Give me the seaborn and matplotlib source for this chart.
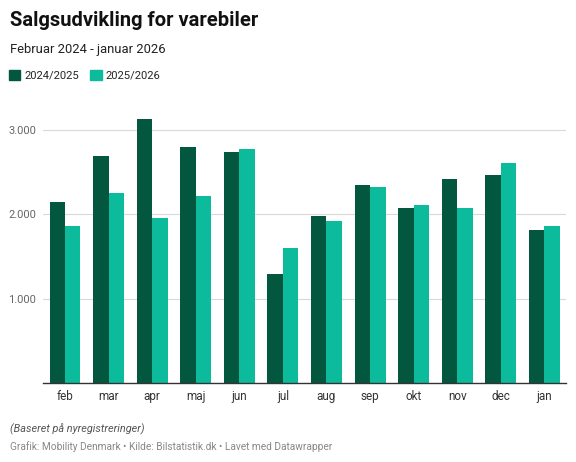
import numpy as np
import matplotlib.pyplot as plt
import matplotlib.patches as mpatches
import seaborn as sns
import pandas as pd

# Data
maaneder = ["feb", "mar", "apr", "maj", "jun", "jul", "aug", "sep", "okt", "nov", "dec", "jan"]
aar_2024_2025 = [2140, 2685, 3125, 2790, 2735, 1290, 1975, 2340, 2070, 2415, 2460, 1810]
aar_2025_2026 = [1860, 2255, 1960, 2215, 2775, 1605, 1920, 2325, 2110, 2075, 2605, 1865]
serier = ["2024/2025", "2025/2026"]
farver = ["#03573f", "#0bbb9c"]

df = pd.DataFrame({
    "Måned": maaneder * 2,
    "Antal": aar_2024_2025 + aar_2025_2026,
    "Periode": [serier[0]] * 12 + [serier[1]] * 12,
})

sns.set_style("white")
plt.rcParams["font.family"] = ["Roboto", "DejaVu Sans"]

fig = plt.figure(figsize=(5.76, 4.62), dpi=100)
ax = fig.add_axes([0.075, 0.171, 0.908, 0.603])

sns.barplot(data=df, x="Måned", y="Antal", hue="Periode", palette=farver,
            width=0.71, gap=0, saturation=1, legend=False, linewidth=0, ax=ax)

ax.set_xlim(-0.5, 11.5)
ax.set_ylim(0, 3300)
ax.set_yticks([1000, 2000, 3000])
ax.set_yticklabels(["1.000", "2.000", "3.000"])
ax.set_xlabel("")
ax.set_ylabel("")
ax.yaxis.grid(True, color="#d9d9d9", linewidth=0.8)
ax.set_axisbelow(True)
sns.despine(ax=ax, left=True)
ax.spines["bottom"].set_color("#333333")
ax.spines["bottom"].set_linewidth(1.0)
ax.tick_params(axis="y", length=0, labelsize=8, labelcolor="#666666", pad=5)
ax.tick_params(axis="x", length=0, labelsize=8.5, labelcolor="#333333", pad=5)

# Titler
fig.text(0.017, 0.955, "Salgsudvikling for varebiler", fontsize=14.5, fontweight="bold",
         color="#111111", va="center")
fig.text(0.017, 0.893, "Februar 2024 - januar 2026", fontsize=9.4, color="#222222", va="center")

# Legend
handles = [mpatches.Patch(color=farver[i], label=serier[i]) for i in range(2)]
fig.legend(handles=handles, loc="center left", bbox_to_anchor=(0.008, 0.837), ncol=2,
           frameon=False, fontsize=8.1, handlelength=1.0, handleheight=1.1,
           handletextpad=0.35, columnspacing=1.0, borderaxespad=0)

# Fodnoter
fig.text(0.017, 0.070, "(Baseret på nyregistreringer)", fontsize=7.8, fontstyle="italic",
         color="#555555", va="center")
fig.text(0.017, 0.034, "Grafik: Mobility Denmark • Kilde: Bilstatistik.dk • Lavet med Datawrapper",
         fontsize=7.3, color="#888888", va="center")

fig.savefig("out.png", dpi=100)
